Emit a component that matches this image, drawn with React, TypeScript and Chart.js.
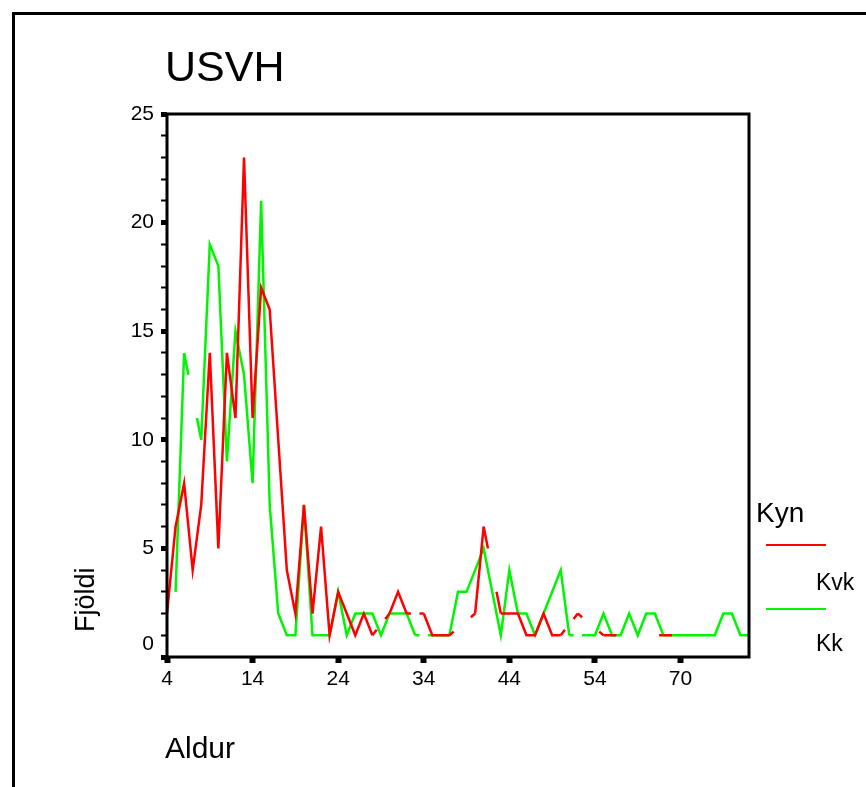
import React, { useEffect, useRef } from 'react';
import { Chart, registerables } from 'chart.js';

Chart.register(...registerables);

const FONT = '"Liberation Sans", Arial, Helvetica, sans-serif';

// Age categories (x axis). Only every 10th category is labelled.
const ages: string[] = [
  '4', '5', '6', '7', '8', '9', '10', '11', '12', '13',
  '14', '15', '16', '17', '18', '19', '20', '21', '22', '23',
  '24', '25', '26', '27', '28', '29', '30', '31', '32', '33',
  '34', '35', '36', '37', '38', '39', '40', '41', '42', '43',
  '44', '45', '46', '47', '48', '49', '50', '51', '52', '53',
  '54', '55', '56', '57', '58', '59', '61', '63', '65', '67',
  '70', '71', '72', '73', '74', '75', '77', '79', '82',
];

// Kvk (red) counts per age; null = no cases for that age
const kvk: (number | null)[] = [
  2, 6, 8, 4, 7, 14, 5, 14, 11, 23,
  11, 17, 16, 10, 4, 2, 7, 2, 6, 1,
  3, 2, 1, 2, 1, null, 2, 3, 2, null,
  2, 1, 1, 1, null, null, 2, 6, null, 2,
  2, 2, 1, 1, 2, 1, 1, null, 2, null,
  null, 1, 1, null, null, null, null, null, 1, 1,
  null, null, null, null, null, null, null, null, null,
];

// Kk (green) counts per age
const kk: (number | null)[] = [
  null, 3, 14, null, 10, 19, 18, 9, 15, 13,
  8, 21, 7, 2, 1, 1, 7, 1, 1, 1,
  3, 1, 2, 2, 2, 1, 2, 2, 2, 1,
  null, 1, 1, 1, 3, 3, 4, 5, 3, 1,
  4, 2, 2, 1, 2, 3, 4, 1, null, 1,
  1, 2, 1, 1, 2, 1, 2, 2, 1, 1,
  1, 1, 1, 1, 1, 2, 2, 1, 1,
];

const seriesNames = ['Kvk', 'Kk'];
const seriesColors = ['#ff0000', '#00f500'];
const allSeries = [kvk, kk];

const yMax = 25;
const yMajorStep = 5;
const xLabelEvery = 10;

// SPSS-style break at missing ages: only half of a step is drawn next to each present point
function gapDash(ctx: any) {
  const data = allSeries[ctx.datasetIndex];
  const i0 = ctx.p0DataIndex;
  const i1 = ctx.p1DataIndex;
  if (data[i0] != null && data[i1] != null) return undefined;
  let a = i0;
  while (a >= 0 && data[a] == null) a--;
  let b = i1;
  while (b < data.length && data[b] == null) b++;
  if (a < 0 || b >= data.length) return undefined;
  const pts: any[] = ctx.chart.getDatasetMeta(ctx.datasetIndex).data;
  const pa = pts[a];
  const pb = pts[b];
  if (!pa || !pb) return undefined;
  const L = Math.hypot(pb.x - pa.x, pb.y - pa.y);
  const d = (L * 0.5) / (b - a);
  return [d, Math.max(L - 2 * d, 0.01), d, 0];
}

const framePlugin = {
  id: 'frame',
  afterDatasetsDraw(chart: any) {
    const { ctx, chartArea } = chart;
    const { left, top, right, bottom } = chartArea;
    ctx.save();
    ctx.strokeStyle = '#000';
    ctx.lineWidth = 3;
    ctx.strokeRect(left, top, right - left, bottom - top);
    ctx.restore();
  },
};

export default function App() {
  const ref = useRef<HTMLCanvasElement>(null);

  useEffect(() => {
    if (!ref.current) return;
    const chart = new Chart(ref.current, {
      type: 'line',
      data: {
        labels: ages,
        datasets: allSeries.map((s, k) => ({
          label: seriesNames[k],
          data: s,
          borderColor: seriesColors[k],
          backgroundColor: seriesColors[k],
          borderWidth: 2.5,
          pointRadius: 0,
          pointHoverRadius: 0,
          tension: 0,
          spanGaps: true,
          fill: false,
          segment: { borderDash: gapDash },
        })),
      },
      options: {
        responsive: false,
        maintainAspectRatio: false,
        devicePixelRatio: 1,
        animation: false,
        events: [],
        layout: { padding: { top: 114, right: 117, left: 0, bottom: 0 } },
        plugins: {
          legend: { display: false },
          title: { display: false },
          tooltip: { enabled: false },
        },
        scales: {
          x: {
            type: 'category',
            offset: false,
            border: { display: false },
            grid: {
              display: true,
              drawOnChartArea: false,
              drawTicks: true,
              tickLength: 6,
              tickWidth: 6,
              tickColor: (c: any) => (c.index % xLabelEvery === 0 ? '#000' : 'rgba(0,0,0,0)'),
            },
            ticks: {
              autoSkip: false,
              maxRotation: 0,
              minRotation: 0,
              padding: 4,
              color: '#000',
              font: { family: FONT, size: 21 },
              callback: (_v: any, i: number) => (i % xLabelEvery === 0 ? ages[i] : ''),
            },
            afterFit: (scale: any) => {
              scale.height = 130;
            },
          },
          y: {
            type: 'linear',
            min: 0,
            max: yMax,
            border: { display: false },
            grid: {
              display: true,
              drawOnChartArea: false,
              drawTicks: true,
              tickLength: 6,
              tickColor: '#000',
              tickWidth: (c: any) => (c.tick && c.tick.value % yMajorStep === 0 ? 5 : 2),
            },
            ticks: {
              stepSize: 1,
              autoSkip: false,
              maxTicksLimit: 100,
              padding: 7,
              color: '#000',
              font: { family: FONT, size: 21 },
              callback: (v: any) => {
                const n = Number(v);
                if (n % yMajorStep !== 0) return '';
                return n === 0 ? ['0', ''] : String(n);
              },
            },
            afterFit: (scale: any) => {
              scale.width = 167;
            },
          },
        },
      },
      plugins: [framePlugin],
    } as any);
    return () => chart.destroy();
  }, []);

  const text = (extra: React.CSSProperties): React.CSSProperties => ({
    position: 'absolute',
    lineHeight: 1,
    whiteSpace: 'nowrap',
    color: '#000',
    fontFamily: FONT,
    ...extra,
  });

  return (
    <div
      style={{
        position: 'absolute',
        left: 0,
        top: 0,
        width: 866,
        height: 787,
        overflow: 'hidden',
        background: '#fff',
      }}
    >
      <div
        style={{
          position: 'absolute',
          left: 12,
          top: 12,
          width: 900,
          height: 900,
          border: '3px solid #000',
        }}
      />
      <canvas
        ref={ref}
        width={866}
        height={787}
        style={{ position: 'absolute', left: 0, top: 0, width: 866, height: 787 }}
      />
      <div style={text({ left: 165, top: 45, fontSize: 43 })}>USVH</div>
      <div style={text({ left: 165, top: 733, fontSize: 30 })}>Aldur</div>
      <div
        style={text({
          left: 72,
          top: 632,
          fontSize: 27,
          transformOrigin: '0 0',
          transform: 'rotate(-90deg)',
        })}
      >
        Fjöldi
      </div>
      <div style={text({ left: 756, top: 499, fontSize: 28 })}>Kyn</div>
      <div style={{ position: 'absolute', left: 766, top: 544, width: 60, height: 2, background: seriesColors[0] }} />
      <div style={text({ left: 816, top: 571, fontSize: 23 })}>{seriesNames[0]}</div>
      <div style={{ position: 'absolute', left: 766, top: 608, width: 60, height: 2, background: seriesColors[1] }} />
      <div style={text({ left: 816, top: 632, fontSize: 23 })}>{seriesNames[1]}</div>
    </div>
  );
}
